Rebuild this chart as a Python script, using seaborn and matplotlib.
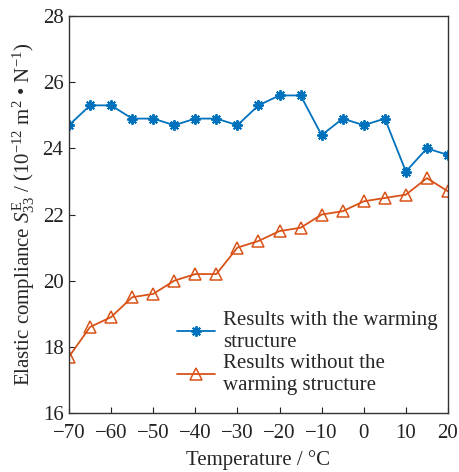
import matplotlib
matplotlib.use("Agg")
import matplotlib.pyplot as plt
import seaborn as sns
import pandas as pd

temperature = [-70, -65, -60, -55, -50, -45, -40, -35, -30, -25, -20, -15, -10, -5, 0, 5, 10, 15, 20]
with_warming = [24.7, 25.3, 25.3, 24.9, 24.9, 24.7, 24.9, 24.9, 24.7, 25.3, 25.6, 25.6, 24.4, 24.9, 24.7, 24.9, 23.3, 24.0, 23.8]
without_warming = [17.7, 18.6, 18.9, 19.5, 19.6, 20.0, 20.2, 20.2, 21.0, 21.2, 21.5, 21.6, 22.0, 22.1, 22.4, 22.5, 22.6, 23.1, 22.7]
labels = ["Results with the warming\nstructure", "Results without the\nwarming structure"]
xticks = [-70, -60, -50, -40, -30, -20, -10, 0, 10, 20]
yticks = [16, 18, 20, 22, 24, 26, 28]

sns.set_theme(style="ticks")
plt.rcParams['font.family'] = ['Liberation Serif', 'DejaVu Serif']
plt.rcParams['mathtext.fontset'] = 'custom'
plt.rcParams['mathtext.rm'] = 'Liberation Serif'
plt.rcParams['mathtext.it'] = 'Liberation Serif:italic'

fig = plt.figure(figsize=(4.59, 4.72), dpi=100)
ax = fig.add_axes([0.1503, 0.125, 0.8257, 0.841])

df = pd.DataFrame({"T": temperature, "a": with_warming, "b": without_warming})
sns.lineplot(data=df, x="T", y="a", ax=ax, color="#0072BD", marker=(8, 2, 0), markersize=7.5,
             markeredgewidth=1.4, markeredgecolor="#0072BD", linewidth=1.3, label=labels[0])
sns.lineplot(data=df, x="T", y="b", ax=ax, color="#D95319", marker="^", markersize=8,
             markerfacecolor="none", markeredgecolor="#D95319", markeredgewidth=1.1,
             linewidth=1.3, label=labels[1])

ax.set_xlim(-70, 20)
ax.set_ylim(16, 28)
ax.set_xticks(xticks)
ax.set_xticklabels(["\u221270", "\u221260", "\u221250", "\u221240", "\u221230", "\u221220", "\u221210", "0", "10", "20"])
ax.set_yticks(yticks)
ax.tick_params(direction="in", length=4, width=0.8, labelsize=15, colors="#222222")
ax.tick_params(axis="x", pad=8)
ax.tick_params(axis="y", pad=4)
for s in ax.spines.values():
    s.set_linewidth(1.0)
    s.set_color("#333333")
ax.set_xlabel("Temperature / \u00b0C", fontsize=15, labelpad=5)
ax.set_ylabel("Elastic compliance $\\mathit{S}_{33}^{\\mathrm{E}}$ / (10$^{-12}$ m$^{2}$ \u2022 N$^{-1}$)",
              fontsize=15, labelpad=4)

leg = ax.legend(loc="lower right", bbox_to_anchor=(1.0, 0.02), frameon=False, fontsize=15,
                handlelength=1.8, handletextpad=0.4, labelspacing=0.1, borderaxespad=0.1)

fig.savefig("out.png", dpi=100)
